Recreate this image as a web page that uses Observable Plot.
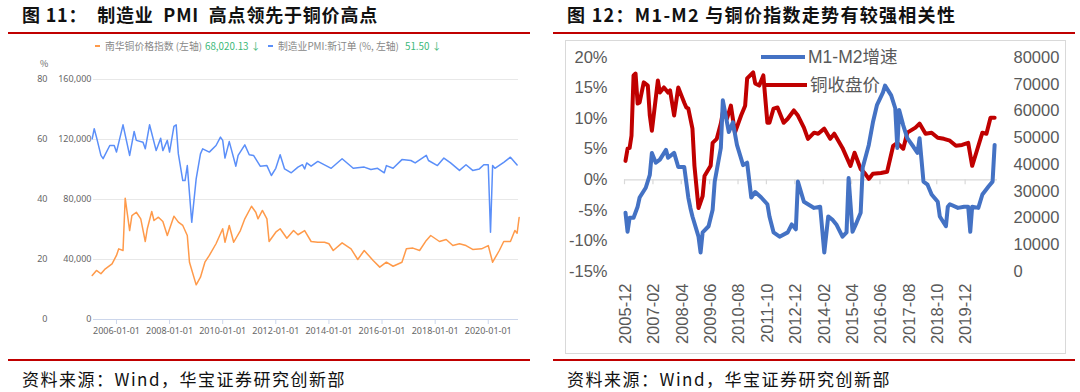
<!DOCTYPE html>
<html><head><meta charset="utf-8">
<script src="https://cdn.jsdelivr.net/npm/d3@7"></script>
<script src="https://cdn.jsdelivr.net/npm/@observablehq/plot@0.6"></script>
<style>
body{margin:0;background:#fff;width:1080px;height:392px;position:relative;overflow:hidden;font-family:"Noto Sans CJK SC",sans-serif}
.abs{position:absolute;white-space:nowrap}
.title{font-size:18px;font-weight:700;color:#111;top:3px;line-height:22px;letter-spacing:0.8px}
.red{position:absolute;height:2px;background:#c00000}
.src{font-size:17px;color:#111;top:368px;line-height:22px;letter-spacing:1.5px}
.lg{font-size:9.8px;color:#888;line-height:12px;top:40px}
.gv{font-size:9.8px;color:#3cb878;line-height:12px;top:40px}
.rl{font-family:"Liberation Sans","Noto Sans CJK SC",sans-serif;font-size:17.5px;color:#595959;line-height:20px}
</style></head><body>
<script>
// ---------- Figure 11 data ----------
const pmiDates = ["2005-02","2005-03","2005-04","2005-06","2005-07","2005-10","2005-12","2006-01","2006-04","2006-07","2006-09","2006-10","2007-01","2007-02","2007-04","2007-07","2007-09","2007-10","2007-12","2008-01","2008-03","2008-04","2008-05","2008-07","2008-08","2008-09","2008-11","2009-01","2009-03","2009-04","2009-07","2009-10","2009-12","2010-01","2010-02","2010-04","2010-07","2010-08","2010-11","2011-01","2011-03","2011-06","2011-09","2011-11","2012-01","2012-03","2012-05","2012-08","2012-11","2013-01","2013-02","2013-03","2013-05","2013-08","2014-02","2014-07","2014-12","2015-05","2015-08","2015-11","2016-02","2016-03","2016-06","2016-10","2017-02","2017-04","2017-09","2017-10","2018-02","2018-05","2018-08","2018-12","2019-03","2019-06","2019-09","2019-11","2020-01","2020-02","2020-03","2020-04","2020-08","2020-11","2021-02"];
const pmiValues = [60.2,63.6,60.8,54.7,53.6,58,58,55.8,64.9,54.7,62.7,59.7,59.1,56.9,64.9,56.3,60.4,56.3,59.7,55.8,64.4,64.9,55.2,46.3,46.3,51.3,32.4,46.9,55.2,56.9,55.8,58,60.8,59.7,53.8,59.3,51.1,54.7,58.2,54.9,54.7,51.1,51.3,48,50.4,54.9,50.2,48.9,50.8,51.6,50.2,52.2,51.1,52.7,50.4,53.6,50.4,50.8,50,50.4,48.9,51.3,50.4,53.3,53,52.2,54.7,53,51.3,53.8,52.2,49.7,51.6,49.7,50.2,51.6,51.6,29.1,51.3,50.4,52.4,54.1,51.5];
const nhDates = ["2005-02","2005-04","2005-06","2005-08","2005-11","2006-01","2006-02","2006-04","2006-05","2006-07","2006-08","2006-10","2006-12","2007-02","2007-03","2007-05","2007-06","2007-08","2007-10","2007-12","2008-03","2008-05","2008-07","2008-09","2008-10","2009-01","2009-03","2009-05","2009-07","2009-10","2010-01","2010-02","2010-04","2010-06","2010-09","2010-11","2011-02","2011-04","2011-05","2011-07","2011-09","2011-10","2012-01","2012-03","2012-06","2012-09","2012-11","2013-02","2013-05","2013-08","2013-11","2014-01","2014-03","2014-07","2014-11","2015-02","2015-05","2015-09","2015-12","2016-03","2016-06","2016-10","2016-12","2017-03","2017-06","2017-09","2017-11","2018-03","2018-06","2018-09","2018-12","2019-03","2019-06","2019-10","2020-01","2020-03","2020-06","2020-08","2020-11","2021-01","2021-02","2021-03"];
const nhValues = [29300,32700,30500,33800,37100,42700,47100,46000,80900,59300,69300,71500,67100,52000,60500,72000,66000,68200,65300,56000,68900,64900,62700,56000,38200,23100,28200,38200,42700,50500,60500,51500,62700,51500,59300,67100,75500,71500,67100,72700,67100,52000,58200,60500,54200,59300,56500,59300,52000,51500,51500,50500,46000,51100,47100,40000,46000,39300,34900,38200,35500,38200,47100,47600,46000,52700,56000,52000,53300,49300,50500,49300,46700,47100,49300,38200,46000,52000,52000,59300,57500,68020];
const leftPctTicks = [0,20,40,60,80];
const leftXTicks = ["2006-01","2008-01","2010-01","2012-01","2014-01","2016-01","2018-01","2020-01"];

// ---------- Figure 12 data ----------
const m1m2Dates = ["2005-12","2006-01","2006-02","2006-04","2006-06","2006-07","2006-10","2006-12","2007-01","2007-03","2007-05","2007-08","2007-09","2007-12","2008-02","2008-05","2008-07","2008-08","2008-09","2008-12","2009-01","2009-02","2009-05","2009-07","2009-08","2009-11","2009-12","2010-03","2010-05","2010-07","2010-10","2010-12","2011-02","2011-04","2011-07","2011-10","2011-11","2012-01","2012-04","2012-08","2012-10","2012-12","2013-01","2013-04","2013-09","2013-12","2014-02","2014-04","2014-06","2014-08","2014-11","2015-01","2015-02","2015-04","2015-06","2015-08","2015-09","2015-12","2016-02","2016-04","2016-07","2016-08","2016-11","2017-01","2017-02","2017-03","2017-05","2017-07","2017-10","2017-12","2018-01","2018-03","2018-05","2018-07","2018-10","2018-11","2019-02","2019-03","2019-04","2019-08","2019-11","2020-01","2020-02","2020-03","2020-06","2020-08","2020-11","2021-01","2021-02"];
const m1m2Values = [-5.4,-8.5,-6.2,-6.2,-4.4,-2.9,-1.3,0.8,4.4,2.8,3.3,4.9,3.6,4.4,2.1,2.1,-2.9,-4.6,-6,-9.3,-11.9,-8.6,-7.6,-4.9,-0.3,5.2,13,7.8,9.4,5.7,2.4,2.8,-2.9,-2,-2.9,-4,-6,-8.6,-9.3,-8.6,-7.3,-8.1,-0.3,-3.6,-4.6,-4.4,-11.9,-6,-6.5,-7.3,-9.3,-8.6,0.3,-8.5,-7,-5.4,2,5.7,9.4,12.2,14.3,15.4,13.8,11.7,5.2,11.4,8.9,6.8,5.4,4.4,6.8,-0.3,-0.8,-2.4,-3.6,-6,-7.6,-4.4,-4,-4.6,-4.4,-4.4,-8.5,-4.4,-4.6,-2.4,-1.1,-0.3,5.7];
const cuDates = ["2005-12","2006-01","2006-02","2006-03","2006-04","2006-05","2006-06","2006-07","2006-09","2006-11","2006-12","2007-01","2007-04","2007-05","2007-07","2007-09","2007-10","2007-12","2008-02","2008-04","2008-05","2008-06","2008-07","2008-09","2008-10","2008-12","2009-02","2009-03","2009-06","2009-07","2009-09","2009-11","2009-12","2010-02","2010-04","2010-06","2010-09","2010-11","2010-12","2011-03","2011-04","2011-06","2011-08","2011-10","2011-11","2012-01","2012-03","2012-06","2012-08","2012-11","2013-01","2013-04","2013-06","2013-09","2013-11","2014-02","2014-05","2014-07","2014-11","2015-03","2015-05","2015-08","2015-10","2015-12","2016-02","2016-06","2016-09","2016-12","2017-02","2017-05","2017-07","2017-11","2018-01","2018-04","2018-07","2018-10","2019-01","2019-04","2019-07","2019-10","2020-01","2020-03","2020-05","2020-08","2020-10","2020-12","2021-02"];
const cuValues = [41350,45900,46200,50750,73300,74000,62800,63200,70700,69500,58300,52600,71400,66900,68800,66900,67700,58300,68800,65000,63100,61300,60900,53400,39500,23700,28200,35700,39500,48100,49600,55300,59400,57100,62000,51900,58300,62000,72200,74400,70300,69500,73300,55600,55600,60900,61300,55600,57100,60200,58300,53800,49600,51900,51500,53400,49600,51500,46200,39500,44400,38300,36800,34600,36500,36800,37300,47000,48100,45900,51900,53800,55300,51500,51900,50000,49600,48900,47000,47300,48100,39500,44400,51900,51500,57500,57500];
const rightPctTicks = [-15,-10,-5,0,5,10,15,20];
const rightPriceTicks = [0,10000,20000,30000,40000,50000,60000,70000,80000];
const rightXLabels = ["2005-12","2007-02","2008-04","2009-06","2010-08","2011-10","2012-12","2014-02","2015-04","2016-06","2017-08","2018-10","2019-12"];
</script>

<div class="abs title" style="left:22px">图 11：&ensp;制造业&ensp;PMI&ensp;高点领先于铜价高点</div>
<div class="red" style="left:8px;width:522px;top:32px"></div>
<div class="abs title" style="left:567px;letter-spacing:1.3px">图 12：M1-M2 与铜价指数走势有较强相关性</div>
<div class="red" style="left:553px;width:522px;top:32px"></div>

<div class="abs" style="left:95px;top:45px;width:5px;height:2px;background:#ff9a4a"></div>
<div class="abs lg" style="left:105px">南华铜价格指数 (左轴)</div>
<div class="abs gv" style="left:205px">68,020.13 ↓</div>
<div class="abs" style="left:268px;top:45px;width:5px;height:2px;background:#5b8ff9"></div>
<div class="abs lg" style="left:278px">制造业PMI:新订单 (%, 左轴)</div>
<div class="abs gv" style="left:405px">51.50 ↓</div>
<div class="abs" style="left:40px;top:58px;font-size:9px;color:#666;line-height:12px">%</div>

<div id="left" class="abs" style="left:8px;top:35px"></div>
<div class="abs" style="left:565px;top:40px;width:499px;height:312px;border:1px solid #d9d9d9"></div>
<div id="right" class="abs" style="left:565px;top:40px"></div>

<div class="abs" style="left:761px;top:55px;width:44px;height:4px;background:#4472c4"></div>
<div class="abs rl" style="left:808px;top:47px">M1-M2增速</div>
<div class="abs" style="left:763px;top:83px;width:44px;height:4px;background:#c00000"></div>
<div class="abs rl" style="left:810px;top:75px">铜收盘价</div>

<div class="red" style="left:8px;width:522px;top:359px"></div>
<div class="red" style="left:553px;width:522px;top:359px"></div>
<div class="abs src" style="left:22px">资料来源：Wind，华宝证券研究创新部</div>
<div class="abs src" style="left:567px">资料来源：Wind，华宝证券研究创新部</div>

<script>
const P = d3.utcParse("%Y-%m");
const pmi = pmiDates.map((d,i) => ({date: P(d), v: pmiValues[i]}));
const nh = nhDates.map((d,i) => ({date: P(d), v: nhValues[i]}));
const m1m2 = m1m2Dates.map((d,i) => ({date: P(d), v: m1m2Values[i]}));
const cu = cuDates.map((d,i) => ({date: P(d), v: cuValues[i]}));

const leftPlot = Plot.plot({
  width: 522, height: 322,
  marginLeft: 85, marginRight: 12, marginTop: 44, marginBottom: 38,
  x: {type: "utc", domain: [new Date(Date.UTC(2005,1,19)), new Date(Date.UTC(2021,1,20))]},
  y: {domain: [0, 80]},
  style: {fontFamily: "'Noto Sans','Noto Sans CJK SC',sans-serif", fontSize: "9px", color: "#666", background: "transparent", overflow: "visible"},
  marks: [
    Plot.gridY(leftPctTicks.slice(1), {stroke: "#e8e8e8", strokeOpacity: 1}),
    Plot.axisY(leftPctTicks, {tickSize: 0, tickPadding: 46, label: null}),
    Plot.axisY(leftPctTicks, {tickSize: 0, tickPadding: 2, label: null, tickFormat: v => d3.format(",")(v*2000)}),
    Plot.ruleY([0], {stroke: "#ccd6eb"}),
    Plot.axisX(leftXTicks.map(P), {tickSize: 5, stroke: "#ccd6eb", tickPadding: 3, label: null, tickFormat: d3.utcFormat("%Y-%m-%d")}),
    Plot.line(nh, {x: "date", y: d => d.v/2000, stroke: "#ff9a4a", strokeWidth: 1.5}),
    Plot.line(pmi, {x: "date", y: "v", stroke: "#5b8ff9", strokeWidth: 1.5})
  ]
});
document.getElementById("left").appendChild(leftPlot);

const toLeft = p => -15 + p*35/80000;
const rightPlot = Plot.plot({
  width: 500, height: 313,
  marginLeft: 59, marginRight: 68, marginTop: 17, marginBottom: 82,
  x: {type: "utc", domain: [new Date(Date.UTC(2005,10,16)), new Date(Date.UTC(2021,2,16))]},
  y: {domain: [-15, 20]},
  style: {fontFamily: "'Liberation Sans',Arial,sans-serif", fontSize: "16.5px", color: "#595959", background: "transparent", overflow: "visible"},
  marks: [
    Plot.axisY(rightPctTicks, {anchor: "left", tickSize: 0, tickPadding: 17, label: null, tickFormat: v => v + "%"}),
    Plot.axisY(rightPriceTicks.map(toLeft), {anchor: "right", tickSize: 0, tickPadding: 16, label: null, tickFormat: v => String(Math.round((v+15)*80000/35))}),
    Plot.ruleY([0], {stroke: "#d9d9d9", strokeWidth: 1.2}),
    Plot.ruleX(rightXLabels.map(d => d3.utcDay.offset(P(d), -15)), {y1: 0, y2: -0.8, stroke: "#d9d9d9", strokeWidth: 1.2}),
    Plot.axisX(rightXLabels.map(P), {tickSize: 0, tickPadding: 12, tickRotate: -90, label: null, tickFormat: d3.utcFormat("%Y-%m")}),
    Plot.line(cu, {x: "date", y: d => toLeft(d.v), stroke: "#c00000", strokeWidth: 4}),
    Plot.line(m1m2, {x: "date", y: "v", stroke: "#4472c4", strokeWidth: 4})
  ]
});
document.getElementById("right").appendChild(rightPlot);
</script>
</body></html>
